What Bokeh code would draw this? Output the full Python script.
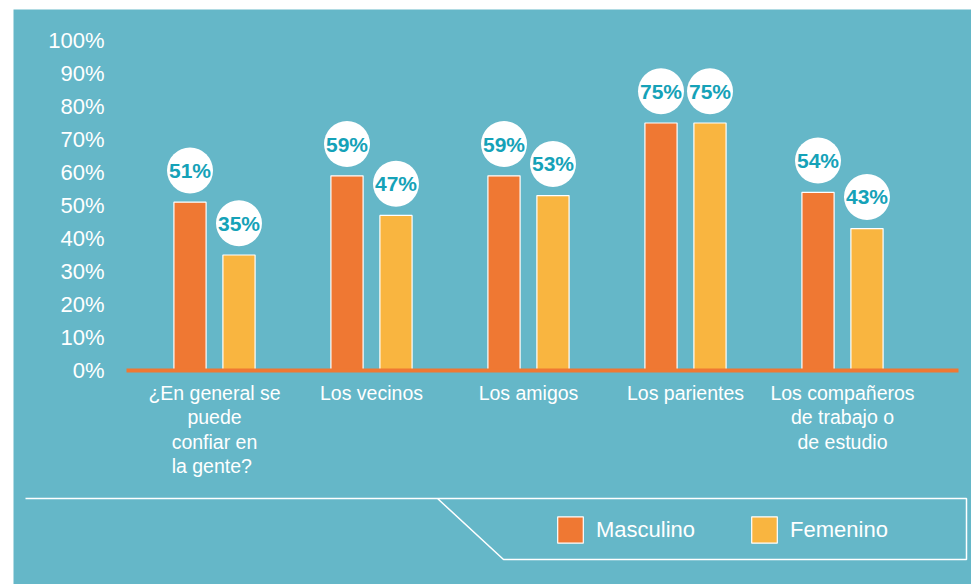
from bokeh.plotting import figure
from bokeh.models import (ColumnDataSource, LinearAxis, FixedTicker, Range1d,
                          Legend, LegendItem)
from bokeh.transform import dodge
from bokeh.core.properties import value
from bokeh.embed import file_html
from bokeh.resources import INLINE

# ---------------- data ----------------
categories = [
    "¿En general se\npuede\nconfiar en\n la gente?",
    "Los vecinos",
    "Los amigos",
    "Los parientes",
    "Los compañeros\nde trabajo o\nde estudio",
]
masculino = [51, 59, 59, 75, 54]
femenino = [35, 47, 53, 75, 43]
series_names = ["Masculino", "Femenino"]
y_ticks = [0, 10, 20, 30, 40, 50, 60, 70, 80, 90, 100]
y_tick_labels = [f"{t}%" for t in y_ticks]

# ---------------- style / layout ----------------
BG = "#65B7C8"
ORANGE = "#EF7833"
YELLOW = "#F9B540"
TEAL_TXT = "#15A2B8"
FONT = "Liberation Sans"

W, H = 958, 575
PX_PER_X = 157.0      # pixels per category step
X0_PX = 201.0         # pixel position of first category centre
PX_PER_Y = 3.3        # pixels per percentage point
Y0_PX = 361.0         # pixel position of 0 %

X_START, X_END = -X0_PX / PX_PER_X, (W - X0_PX) / PX_PER_X
Y_START, Y_END = -(H - Y0_PX) / PX_PER_Y, Y0_PX / PX_PER_Y


def px_x(px):
    return X_START + px / W * (X_END - X_START)


def px_y(py):
    return Y_END - py / H * (Y_END - Y_START)


src = ColumnDataSource(dict(
    x=list(range(len(categories))),
    m=masculino,
    f=femenino,
    m_lbl=[f"{v}%" for v in masculino],
    f_lbl=[f"{v}%" for v in femenino],
))

p = figure(width=W, height=H, output_backend="svg", toolbar_location=None,
           x_range=Range1d(X_START, X_END), y_range=Range1d(Y_START, Y_END),
           x_axis_location=None, y_axis_location=None,
           min_border=0, background_fill_color=BG, border_fill_color=BG,
           outline_line_color=None, margin=(9, 0, 0, 13))
p.grid.visible = False

OFF = 0.156
BW = 0.205
LBL_UP = 9.6

bars = []
for col, lbl, color, off in [("m", "m_lbl", ORANGE, -OFF), ("f", "f_lbl", YELLOW, OFF)]:
    r = p.vbar(x=dodge("x", off, range=p.x_range), top=col, bottom=0, width=BW,
               source=src, fill_color=color, line_color="white", line_width=1.2)
    bars.append(r)
    p.scatter(x=dodge("x", off, range=p.x_range), y=dodge(col, LBL_UP, range=p.y_range),
              size=46, marker="circle", source=src, fill_color="white", line_color=None)
    p.text(x=dodge("x", off, range=p.x_range), y=dodge(col, LBL_UP, range=p.y_range),
           text=lbl, source=src, text_font=value(FONT), text_font_style="bold",
           text_font_size="21px", text_color=TEAL_TXT, text_align="center",
           text_baseline="middle")

# axes
axis_left_x = px_x(113)
axis_right_x = px_x(945)

xaxis = LinearAxis(fixed_location=0, bounds=(axis_left_x, axis_right_x),
                   ticker=FixedTicker(ticks=list(range(len(categories)))),
                   major_label_overrides={i: c for i, c in enumerate(categories)},
                   axis_line_color=ORANGE, axis_line_width=4,
                   major_tick_line_color=None, minor_tick_line_color=None,
                   major_label_standoff=5,
                   major_label_text_color="white",
                   major_label_text_font=FONT,
                   major_label_text_font_size="19.5px",
                   major_label_text_line_height=1.12)
p.add_layout(xaxis, "below")

yaxis = LinearAxis(fixed_location=axis_left_x, bounds=(0, 100),
                   ticker=FixedTicker(ticks=y_ticks),
                   major_label_overrides={t: l for t, l in zip(y_ticks, y_tick_labels)},
                   axis_line_color=None,
                   major_tick_line_color=None, minor_tick_line_color=None,
                   major_label_standoff=16,
                   major_label_text_color="white",
                   major_label_text_font=FONT,
                   major_label_text_font_size="22px")
p.add_layout(yaxis, "left")

# legend frame (decorative outline)
box_px = [(12, 489), (953, 489), (953, 550), (490, 550), (424, 489), (12, 489)]
p.line([px_x(a) for a, b in box_px], [px_y(b) for a, b in box_px],
       line_color="white", line_width=1.5)

legend = Legend(items=[LegendItem(label=n, renderers=[r]) for n, r in zip(series_names, bars)],
                orientation="horizontal", location=(541, H - 537),
                background_fill_alpha=0, border_line_color=None,
                padding=0, margin=0, spacing=53, label_standoff=10,
                glyph_width=32, glyph_height=33,
                label_text_color="white", label_text_font=FONT,
                label_text_font_size="22px")
p.add_layout(legend)

open("out.html", "w").write(file_html(p, INLINE))
